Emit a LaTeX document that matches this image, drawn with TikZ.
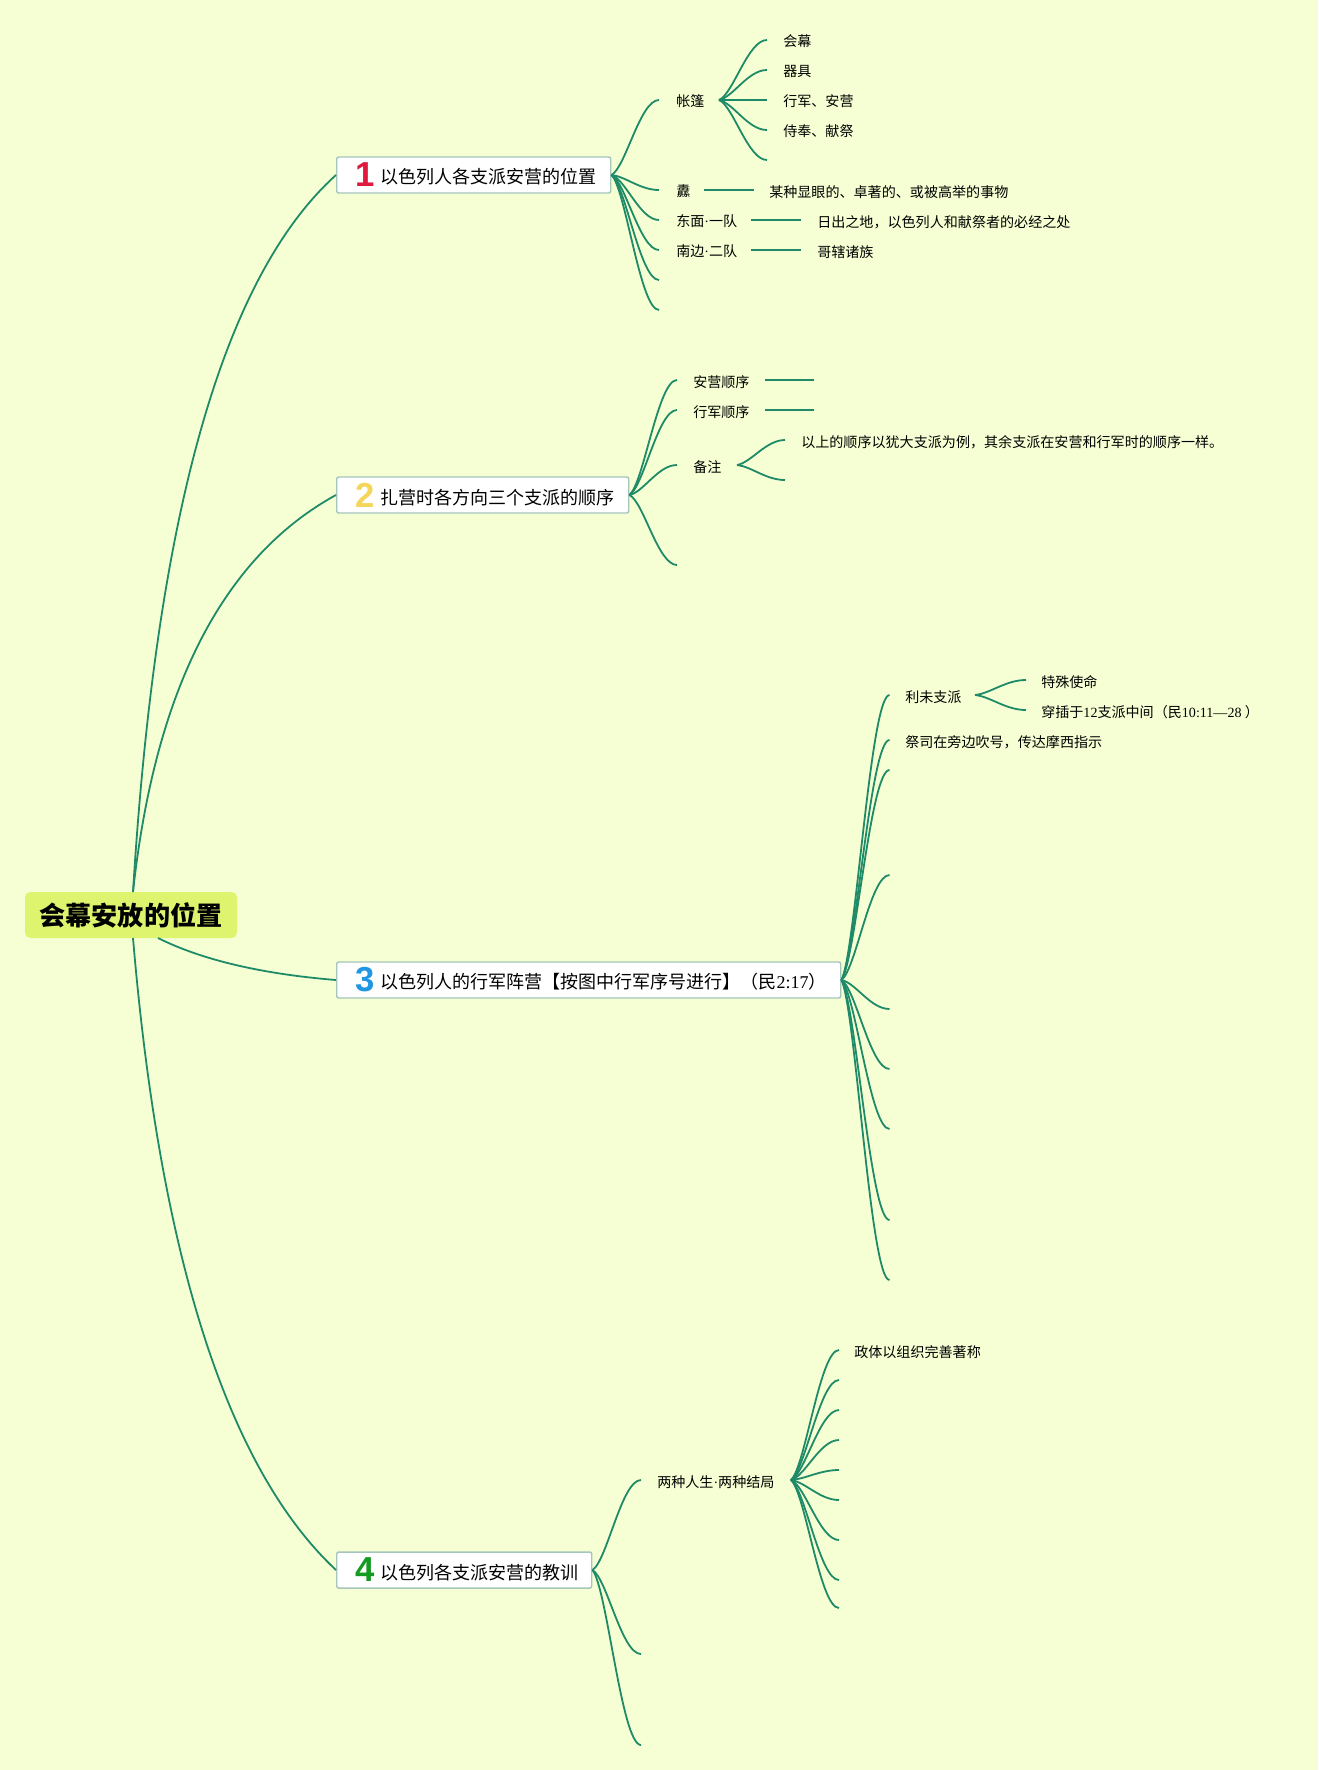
\documentclass[tikz,border=0pt]{standalone}
\usepackage{fontspec}
\setmainfont{Noto Sans CJK SC}
\newfontfamily\latfont{Liberation Serif}
\newfontfamily\digfont{Liberation Sans}
\usetikzlibrary{calc}
\definecolor{bgc}{HTML}{F6FFD3}
\definecolor{rootc}{HTML}{DEF46E}
\definecolor{linkc}{HTML}{1F8A68}
\definecolor{edgec}{HTML}{A6C6BB}
\definecolor{numa}{HTML}{E0193F}
\definecolor{numb}{HTML}{F5D55A}
\definecolor{numc}{HTML}{2196E3}
\definecolor{numd}{HTML}{139A20}
\tikzset{
  rootbox/.style={fill=rootc,rounded corners=4pt,inner sep=0pt,minimum width=159pt,minimum height=34.5pt,font=\fontsize{19.6}{22}\selectfont\bfseries},
  topic/.style={draw=edgec,line width=1.1pt,fill=white,rounded corners=1.5pt,inner sep=0pt,minimum height=27pt,anchor=west,font=\fontsize{13.5}{18}\selectfont},
  leaf/.style={anchor=west,inner sep=0pt,font=\fontsize{10.55}{14}\selectfont,text height=9.6pt,text depth=0pt},
  link/.style={draw=linkc,line width=1.35pt},
  rule/.style={draw=linkc,line width=1.35pt},
}
\newcommand\topictext[4]{\makebox[#1pt][l]{\hspace*{21pt}\makebox[0pt][c]{\digfont\bfseries\fontsize{26}{26}\selectfont\textcolor{#2}{#3}}\hspace*{12pt}\raisebox{2.2pt}{#4}}}
\newcommand\sbranch[2]{\draw[link] let \p1=(#1),\p2=(#2) in (\p1) .. controls (\x1+0.3*\x2-0.3*\x1,\y1+0.1*\y2-0.1*\y1) and (\x1+0.6*\x2-0.6*\x1,\y2) .. (\p2);}
\newcommand\ndot{{\latfont ·}}
\begin{document}
\begin{tikzpicture}[x=0.75pt,y=-0.75pt]
\useasboundingbox (0,0) rectangle (1318,1770);
\fill[bgc] (0,0) rectangle (1318,1770);

% root and topics
\node[rootbox] (root) at (131,915) {\raisebox{-1.5pt}{会幕安放的位置}};
\node[topic] (t1) at (336,175) {\topictext{205.5}{numa}{1}{以色列人各支派安营的位置}};
\node[topic] (t2) at (336,495) {\topictext{219}{numb}{2}{扎营时各方向三个支派的顺序}};
\node[topic] (t3) at (336,980) {\topictext{378}{numc}{3}{以色列人的行军阵营【按图中行军序号进行】（民{\latfont 2:17}）}};
\node[topic] (t4) at (336,1570) {\topictext{191.25}{numd}{4}{以色列各支派安营的教训}};

\coordinate (rt) at (133,892);
\coordinate (rb) at (133,938);
\coordinate (rc) at (158,938);
\draw[link] (rt) .. controls (156,517) and (222,278) .. (t1.west);
\draw[link] (rt) .. controls (155,689) and (223,557) .. (t2.west);
\draw[link] (rc) .. controls (202,960) and (262,974) .. (t3.west);
\draw[link] (rb) .. controls (160,1258) and (228,1469) .. (t4.west);

% ---------- branch 1
\node[leaf] (a1) at (676,100) {帐篷};
\node[leaf] (a2) at (676,190) {纛};
\node[leaf] (a3) at (676,220) {东面\ndot 一队};
\node[leaf] (a4) at (676,250) {南边\ndot 二队};
\coordinate (a1i) at (659,100);
\coordinate (a2i) at (659,190);
\coordinate (a3i) at (659,220);
\coordinate (a4i) at (659,250);
\coordinate (a5i) at (659,280);
\coordinate (a6i) at (659,310);
\foreach \tgt in {a1i,a2i,a3i,a4i,a5i,a6i}{\sbranch{t1.east}{\tgt}}

\coordinate (a1o) at (719,100);
\node[leaf] (b1) at (783,40) {会幕};
\node[leaf] (b2) at (783,70) {器具};
\node[leaf] (b3) at (783,100) {行军、安营};
\node[leaf] (b4) at (783,130) {侍奉、献祭};
\coordinate (b1i) at (767,40);
\coordinate (b2i) at (767,70);
\coordinate (b3i) at (767,100);
\coordinate (b4i) at (767,130);
\coordinate (b5i) at (767,160);
\foreach \tgt in {b1i,b2i,b3i,b4i,b5i}{\sbranch{a1o}{\tgt}}

\coordinate (a2o) at (704,190);
\coordinate (a2e) at (754,190);
\draw[rule] (a2o) -- (a2e);
\node[leaf] (c2) at (769,191) {某种显眼的、卓著的、或被高举的事物};
\coordinate (a3o) at (751,220);
\coordinate (a3e) at (801,220);
\draw[rule] (a3o) -- (a3e);
\node[leaf] (c3) at (817,221) {日出之地，以色列人和献祭者的必经之处};
\coordinate (a4o) at (751,250);
\coordinate (a4e) at (801,250);
\draw[rule] (a4o) -- (a4e);
\node[leaf] (c4) at (817,251) {哥辖诸族};

% ---------- branch 2
\node[leaf] (d1) at (693,381) {安营顺序};
\node[leaf] (d2) at (693,411) {行军顺序};
\node[leaf] (d3) at (693,466) {备注};
\coordinate (d1i) at (677,380);
\coordinate (d2i) at (677,410);
\coordinate (d3i) at (677,465);
\coordinate (d4i) at (677,565);
\foreach \tgt in {d1i,d2i,d3i,d4i}{\sbranch{t2.east}{\tgt}}
\coordinate (d1o) at (765,380);
\coordinate (d1e) at (814,380);
\draw[rule] (d1o) -- (d1e);
\coordinate (d2o) at (765,410);
\coordinate (d2e) at (814,410);
\draw[rule] (d2o) -- (d2e);
\coordinate (d3o) at (737,465);
\coordinate (e1i) at (785,440);
\coordinate (e2i) at (785,480);
\foreach \tgt in {e1i,e2i}{\sbranch{d3o}{\tgt}}
\node[leaf] (e1) at (801,441) {以上的顺序以犹大支派为例，其余支派在安营和行军时的顺序一样。};

% ---------- branch 3
\node[leaf] (f1) at (905,696) {利未支派};
\node[leaf] (f2) at (905,741) {祭司在旁边吹号，传达摩西指示};
\coordinate (f1i) at (889.5,695);
\coordinate (f2i) at (889.5,740);
\coordinate (f3i) at (889.5,770);
\coordinate (f4i) at (889.5,875);
\coordinate (f5i) at (889.5,1009);
\coordinate (f6i) at (889.5,1069);
\coordinate (f7i) at (889.5,1129);
\coordinate (f8i) at (889.5,1220);
\coordinate (f9i) at (889.5,1280);
\foreach \tgt in {f1i,f2i,f3i,f4i,f5i,f6i,f7i,f8i,f9i}{\sbranch{t3.east}{\tgt}}
\coordinate (f1o) at (975,695);
\coordinate (g1i) at (1026,680);
\coordinate (g2i) at (1026,710);
\foreach \tgt in {g1i,g2i}{\sbranch{f1o}{\tgt}}
\node[leaf] (g1) at (1041,681) {特殊使命};
\node[leaf] (g2) at (1041,711) {穿插于{\latfont 12}支派中间（民{\latfont 10:11—28} ）};

% ---------- branch 4
\node[leaf] (h1) at (657,1481) {两种人生\ndot 两种结局};
\coordinate (h1i) at (641,1480);
\coordinate (h2i) at (641,1654);
\coordinate (h3i) at (641,1745);
\foreach \tgt in {h1i,h2i,h3i}{\sbranch{t4.east}{\tgt}}
\coordinate (h1o) at (791,1480);
\foreach \i/\yy in {1/1350,2/1380,3/1410,4/1440,5/1470,6/1500,7/1540,8/1580,9/1608}{
  \coordinate (k\i) at (839,\yy);
  \sbranch{h1o}{k\i}
}
\node[leaf] (k1t) at (854,1351) {政体以组织完善著称};
\end{tikzpicture}
\end{document}
